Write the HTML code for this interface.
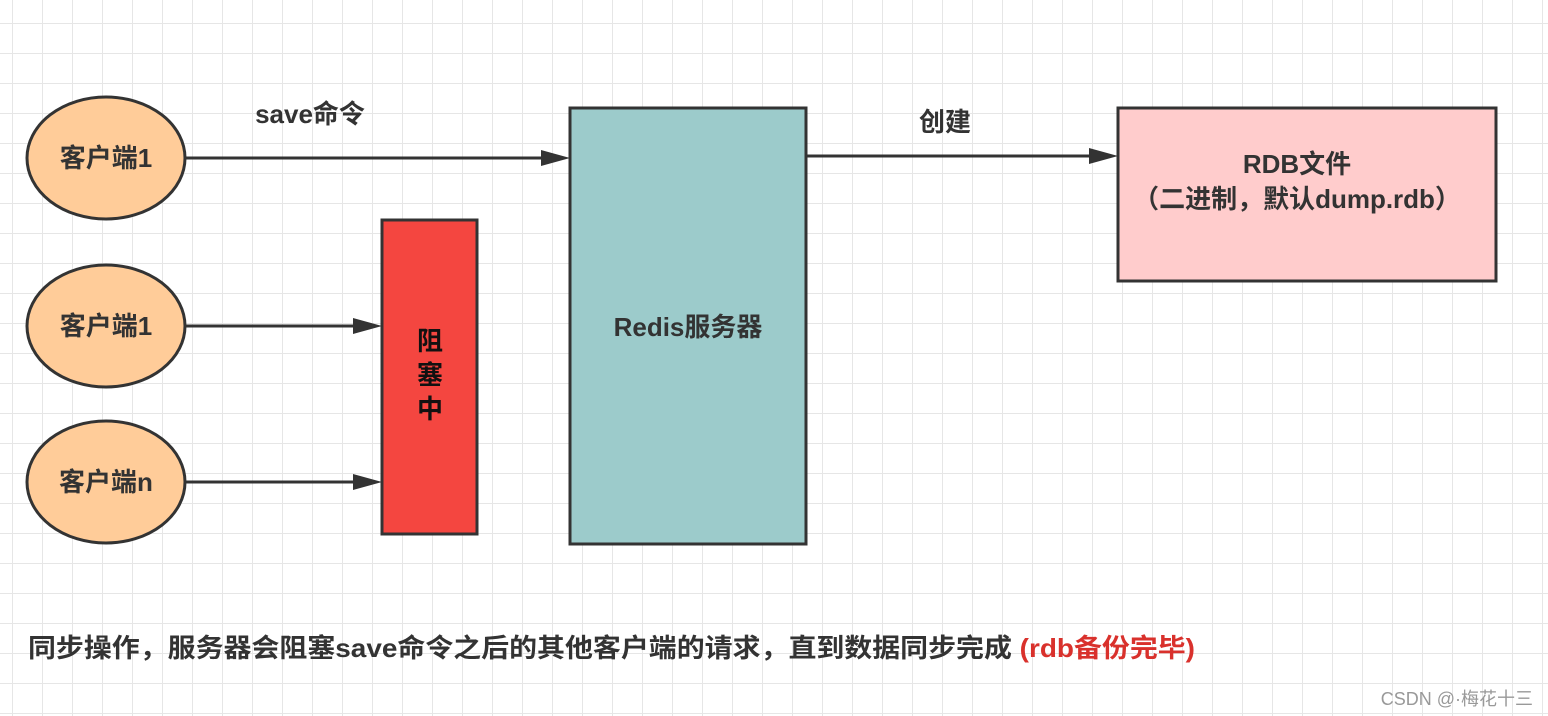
<!DOCTYPE html>
<html><head><meta charset="utf-8"><style>
html,body{margin:0;padding:0;background:#fff}
svg{display:block}
text{font-family:"Liberation Sans","Noto Sans CJK SC",sans-serif;fill:#333;font-weight:bold}
</style></head><body>
<svg width="1548" height="716" viewBox="0 0 1548 716" xmlns="http://www.w3.org/2000/svg">
<defs>
<pattern id="g" x="12" y="23" width="30" height="30" patternUnits="userSpaceOnUse">
<path d="M0 0H30M0 0V30" stroke="#e6e6e6" stroke-width="2" fill="none"/>
</pattern>
</defs>
<rect width="1548" height="716" fill="url(#g)"/>
<g stroke="#333" stroke-width="3">
<ellipse cx="106" cy="158" rx="79" ry="61" fill="#ffcc99"/>
<ellipse cx="106" cy="326" rx="79" ry="61" fill="#ffcc99"/>
<ellipse cx="106" cy="482" rx="79" ry="61" fill="#ffcc99"/>
<rect x="382" y="220" width="95" height="314" fill="#f44640"/>
<rect x="570" y="108" width="236" height="436" fill="#9ccbcb"/>
<rect x="1118" y="108" width="378" height="173" fill="#ffcccc"/>
<g fill="none">
<path d="M185 158H548"/>
<path d="M185 326H360"/>
<path d="M185 482H360"/>
<path d="M806 156H1096"/>
</g>
</g>
<g fill="#333">
<path d="M541 150L570 158L541 166z"/>
<path d="M353 318L382 326L353 334z"/>
<path d="M353 474L382 482L353 490z"/>
<path d="M1089 148L1118 156L1089 164z"/>
</g>
<g font-size="26" text-anchor="middle">
<text x="106" y="167">客户端1</text>
<text x="106" y="335">客户端1</text>
<text x="106" y="491">客户端n</text>
<text x="310" y="123">save命令</text>
<text x="945" y="131">创建</text>
<text x="688" y="336">Redis服务器</text>
<text x="1297" y="173">RDB文件</text>
<text x="1297" y="208">（二进制，默认dump.rdb）</text>
<text x="430" y="350" style="fill:#111">阻</text>
<text x="430" y="384" style="fill:#111">塞</text>
<text x="430" y="418" style="fill:#111">中</text>
</g>
<text x="28" y="657" font-size="26" textLength="1167" lengthAdjust="spacingAndGlyphs">同步操作，服务器会阻塞save命令之后的其他客户端的请求，直到数据同步完成 <tspan style="fill:#d9312c">(rdb备份完毕)</tspan></text>
<text x="1533" y="705" font-size="18" text-anchor="end" style="fill:#999;font-weight:normal">CSDN @·梅花十三</text>
</svg>
</body></html>
